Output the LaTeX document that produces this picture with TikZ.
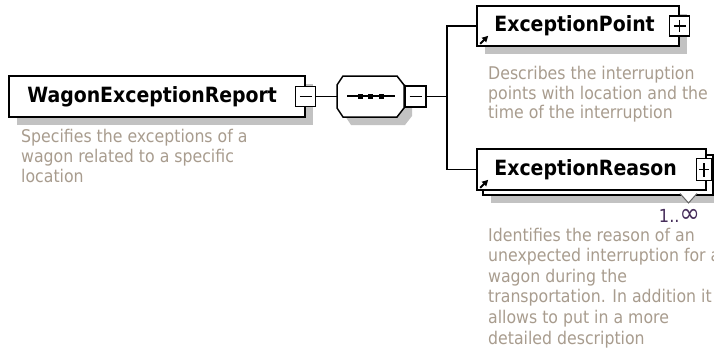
\documentclass[tikz,border=0pt]{standalone}
\usepackage{fontspec}
\setmainfont{DejaVu Sans}
\newfontfamily\condfont[BoldFont={DejaVu Sans Condensed Bold}]{DejaVu Sans Condensed}
\usetikzlibrary{shadows,arrows.meta,positioning}

\definecolor{descgray}{RGB}{168,156,142}
\definecolor{shadowgray}{RGB}{194,194,194}
\definecolor{multcol}{RGB}{70,45,90}

\tikzset{
  shadowed/.style={drop shadow={shadow xshift=8pt, shadow yshift=-8pt, fill=shadowgray, opacity=1}},
  elembox/.style={draw=black, line width=1.6pt, fill=white, inner sep=0pt, minimum height=41pt},
  elemtitle/.style={font=\condfont\bfseries\fontsize{21}{24}\selectfont, inner sep=0pt, anchor=west},
  descr/.style={font=\condfont\fontsize{17.5}{20}\selectfont, text=descgray, align=left, inner sep=0pt, anchor=north west},
  signbox/.style={draw=black, line width=1.3pt, fill=white, inner sep=0pt, minimum width=20pt, minimum height=20pt},
  conn/.style={draw=black, line width=1.4pt},
  refarrow/.style={line width=2pt, -{Triangle[length=6pt,width=6pt]}},
}

\begin{document}
\begin{tikzpicture}[x=1pt, y=-1pt]
  \useasboundingbox (0,0) rectangle (714,359);

  % Root element
  \node[elembox, shadowed, minimum width=296pt] (report) at (157,96.5) {};
  \node[elemtitle] (reporttitle) at ([xshift=19pt]report.west) {WagonExceptionReport};
  \node[signbox] (reportminus) at (report.east) {};
  \draw[line width=1.3pt] ([xshift=-6pt]reportminus.center) -- ([xshift=6pt]reportminus.center);
  \node[descr] (reportdesc) at (21,129)
    {Specifies the exceptions of a\\wagon related to a specific\\location};

  % Sequence compositor
  \coordinate (seqin) at (337,96.5);
  \draw[line width=1.5pt, fill=white, shadowed]
    (337,85) -- (343,76) -- (397,76) -- (404,85) -- (404,108) -- (397,117) -- (343,117) -- (337,108) -- cycle;
  \draw[line width=1.3pt] (347,96) -- (395,96);
  \foreach \dx in {360,370.5,381}
    \fill (\dx,96) +(-2.5,-2.5) rectangle +(2.5,2.5);
  \node[signbox, minimum width=21pt, minimum height=21pt] (seqminus) at (415.5,96.5) {};
  \draw[line width=1.3pt] ([xshift=-6pt]seqminus.center) -- ([xshift=6pt]seqminus.center);

  % Child elements
  \node[elembox, shadowed, minimum width=202pt, minimum height=40pt] (point) at (578,26) {};
  \node[elemtitle] (pointtitle) at ([xshift=18pt]point.west) {ExceptionPoint};
  \node[signbox] (pointplus) at (point.east) {};
  \draw[line width=1.3pt] ([xshift=-6pt]pointplus.center) -- ([xshift=6pt]pointplus.center)
    ([yshift=-6pt]pointplus.center) -- ([yshift=6pt]pointplus.center);
  \draw[refarrow] ([shift={(4,-3)}]point.south west) -- ++(8,-8);
  \node[descr, font=\condfont\fontsize{17.5}{19.5}\selectfont] (pointdesc) at (488,66.5)
    {Describes the interruption\\points with location and the\\time of the interruption};

  \node[elembox, shadowed, minimum width=230pt, minimum height=40pt] (reasonback) at (598,175) {};
  \node[elembox, minimum width=229pt] (reason) at (591.5,169.5) {};
  \node[elemtitle] (reasontitle) at ([xshift=18pt]reason.west) {ExceptionReason};
  \node[signbox, minimum width=15pt, minimum height=22pt] (reasonplus) at (704,169.5) {};
  \draw[line width=1.3pt] ([xshift=-5pt]reasonplus.center) -- ([xshift=5pt]reasonplus.center)
    ([yshift=-7pt]reasonplus.center) -- ([yshift=7pt]reasonplus.center);
  \draw[refarrow] ([shift={(4,-3)}]reason.south west) -- ++(8,-8);
  \draw[line width=1pt, black!60, fill=white] (680,193.5) -- (688.5,203) -- (697,193.5);
  \node[font=\condfont\fontsize{18}{20}\selectfont, text=multcol, inner sep=0pt, anchor=east]
    (reasonmult) at (700,216) {1..\raisebox{-0.5pt}{\scalebox{1.5}{∞}}};
  \node[descr, font=\condfont\fontsize{17.5}{20.6}\selectfont] (reasondesc) at (488,227.5)
    {Identifies the reason of an\\unexpected interruption for a\\wagon during the\\transportation. In addition it\\allows to put in a more\\detailed description};

  % Connectors
  \coordinate (fork) at (447,96.5);
  \draw[conn] (reportminus.east) -- (seqin);
  \draw[conn] (seqminus.east) -- (fork);
  \draw[conn] (point.west) -| (fork) |- (reason.west);

\end{tikzpicture}
\end{document}
